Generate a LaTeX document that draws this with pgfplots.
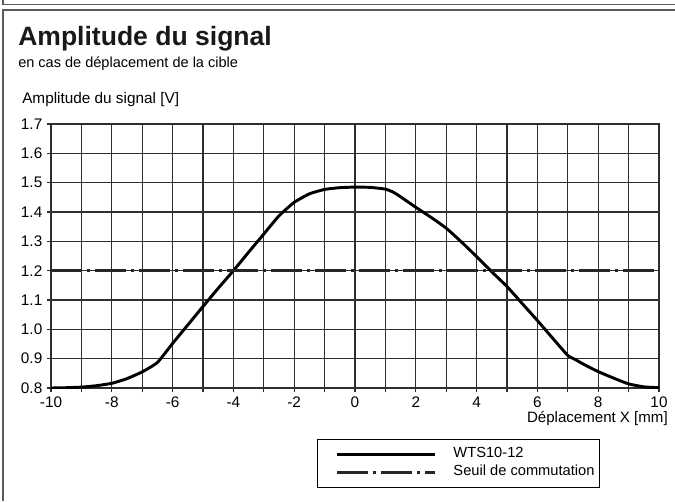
\documentclass[border=0pt]{standalone}
\usepackage{pgfplots}
\pgfplotsset{compat=1.18}
\usepackage{fontspec}
\setmainfont{Liberation Sans}
\definecolor{gridc}{HTML}{2E2E2E}
\definecolor{framec}{HTML}{5A5A5A}
\begin{document}
\begin{tikzpicture}
\path[use as bounding box] (0,0) rectangle (506.25pt,-375.75pt);
% frame
\draw[framec, line width=1.1pt] (2.25pt,0pt) -- (2.25pt,-3.4pt) -- (507pt,-3.4pt);
\draw[framec, line width=1.1pt] (507pt,-7.5pt) -- (2.25pt,-7.5pt) -- (2.25pt,-376pt);
% titles
\node[anchor=base west, inner sep=0pt, font=\fontsize{19.9}{22}\selectfont\bfseries, text=black!90] at (13.5pt,-33.75pt) {Amplitude du signal};
\node[anchor=base west, inner sep=0pt, font=\fontsize{10.9}{13}\selectfont] at (13.5pt,-50.25pt) {en cas de déplacement de la cible};
\begin{axis}[
  at={(38.25pt,-291pt)}, anchor=south west,
  scale only axis, width=456pt, height=198pt,
  xmin=-10, xmax=10, ymin=0.8, ymax=1.7,
  xtick={-10,-8,...,10},
  minor xtick={-9,-7,...,9},
  ytick={0.8,0.9,1.0,1.1,1.2,1.3,1.4,1.5,1.6,1.7},
  yticklabel style={/pgf/number format/.cd, fixed, fixed zerofill, precision=1},
  /pgf/number format/assume math mode=true,
  tick label style={font=\fontsize{11.5}{13}\selectfont},
  tick align=outside,
  major tick length=3pt, minor tick length=3pt,
  tick style={gridc, line width=1pt},
  minor tick style={gridc, line width=1pt},
  xtick pos=bottom, ytick pos=left,
  grid=both,
  major grid style={gridc, line width=1pt},
  minor grid style={gridc, line width=1pt},
  axis line style={gridc, line width=1pt},
  xlabel={Déplacement X [mm]},
  xlabel style={at={(rel axis cs:1.0148,-0.1288)}, anchor=base east, inner sep=0pt, font=\fontsize{11.3}{13}\selectfont},
  ylabel={Amplitude du signal [V]},
  ylabel style={at={(rel axis cs:-0.0477,1.0795)}, rotate=-90, anchor=base west, inner sep=0pt, font=\fontsize{11.5}{13}\selectfont},
  legend style={at={(rel axis cs:0.4375,-0.193)}, anchor=north west,
    draw=black, line width=0.8pt, inner xsep=0pt, inner ysep=4.5pt,
    font=\fontsize{11}{13}\selectfont,
    nodes={inner xsep=0pt, inner ysep=0pt, text height=9pt, text depth=4.5pt, anchor=west},
    row sep=0pt, column sep=0pt},
  legend cell align=left,
  legend image code/.code={\path (-13.5pt,0pt) (86.25pt,0pt); \draw[#1, line width=2.1pt] (0pt,0pt) -- (73.5pt,0pt);},
]
\addplot[black, line width=2.2pt, smooth, tension=0.3] coordinates {
(-10,0.800) (-9.5,0.801) (-9,0.803) (-8.5,0.808) (-8,0.816) (-7.5,0.832)
(-7,0.855) (-6.5,0.887) (-6,0.952) (-5.5,1.015) (-5,1.078) (-4.5,1.140)
(-4,1.200) (-3.5,1.263) (-3,1.325) (-2.5,1.387) (-2,1.433) (-1.5,1.462)
(-1,1.477) (-0.5,1.483) (0,1.485) (0.5,1.484) (1,1.478) (1.25,1.468)
(1.5,1.452) (2,1.416) (2.5,1.382) (3,1.345) (3.5,1.298) (4,1.248) (4.5,1.196)
(5,1.146) (5.5,1.088) (6,1.030) (6.5,0.970) (7,0.911) (7.25,0.897)
(7.5,0.882) (8,0.856) (8.5,0.834) (9,0.814) (9.5,0.804) (10,0.801)
};
\addlegendentry{WTS10-12}
\addplot[black!85, line width=1.9pt, dash pattern=on 23.25pt off 3.75pt on 2.25pt off 3.75pt] coordinates {(-10,1.2) (10,1.2)};
\addlegendentry{Seuil de commutation\hspace*{3.75pt}}
\end{axis}
\end{tikzpicture}
\end{document}
